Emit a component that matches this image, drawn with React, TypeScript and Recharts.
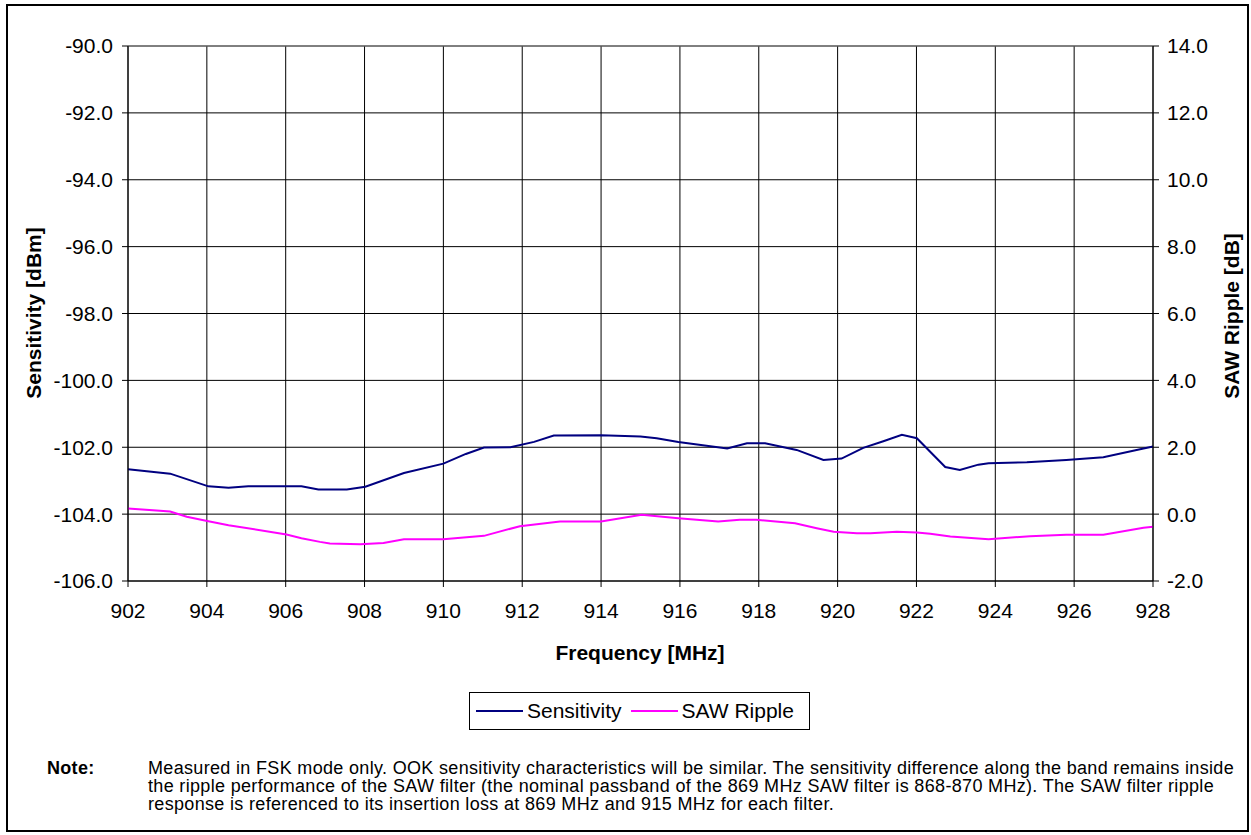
import React from 'react';
import { LineChart, Line, XAxis, YAxis, CartesianGrid, Legend, ReferenceLine } from 'recharts';

const sensFreq = [902, 903.07, 904.04, 904.55, 905.05, 906.4, 906.83, 907.55, 908.02, 909.0, 910.0, 910.57, 911.03, 911.7, 912.3, 912.8, 914.0, 915.0, 915.41, 915.96, 917.2, 917.7, 918.16, 918.96, 919.64, 920.1, 920.65, 921.16, 921.63, 922.01, 922.73, 923.1, 923.57, 923.83, 924.8, 925.8, 926.74, 927.76, 928];
const sensValue = [-102.66, -102.79, -103.17, -103.21, -103.17, -103.17, -103.26, -103.26, -103.18, -102.77, -102.49, -102.2, -102.01, -102.0, -101.84, -101.65, -101.64, -101.68, -101.73, -101.84, -102.04, -101.88, -101.88, -102.08, -102.38, -102.34, -102.02, -101.82, -101.63, -101.73, -102.59, -102.68, -102.52, -102.48, -102.45, -102.38, -102.3, -102.04, -101.98];

const rippleFreq = [902, 903.07, 903.49, 904.04, 904.55, 906.02, 906.4, 906.87, 907.12, 907.89, 908.48, 909.0, 910.0, 911.03, 911.94, 912.96, 914.0, 915.03, 915.96, 916.97, 917.52, 917.94, 918.92, 919.47, 919.9, 920.49, 920.83, 921.5, 922.01, 922.35, 922.86, 923.83, 924.88, 925.8, 926.74, 927.76, 928];
const rippleValue = [0.17, 0.08, -0.08, -0.21, -0.33, -0.61, -0.72, -0.83, -0.88, -0.9, -0.86, -0.75, -0.75, -0.65, -0.36, -0.22, -0.22, -0.02, -0.12, -0.22, -0.17, -0.17, -0.27, -0.42, -0.53, -0.57, -0.57, -0.53, -0.55, -0.59, -0.67, -0.75, -0.66, -0.62, -0.62, -0.41, -0.38];

const freqTicks = [902, 904, 906, 908, 910, 912, 914, 916, 918, 920, 922, 924, 926, 928];
const sensTicks = [-90, -92, -94, -96, -98, -100, -102, -104, -106];
const rippleTicks = [14, 12, 10, 8, 6, 4, 2, 0, -2];
const seriesNames = ['Sensitivity', 'SAW Ripple'];

const noteLines = [
  'Measured in FSK mode only. OOK sensitivity characteristics will be similar. The sensitivity difference along the band remains inside',
  'the ripple performance of the SAW filter (the nominal passband of the 869 MHz SAW filter is 868-870 MHz). The SAW filter ripple',
  'response is referenced to its insertion loss at 869 MHz and 915 MHz for each filter.',
];

const sensData = sensFreq.map((f, i) => ({ freq: f, value: sensValue[i] }));
const rippleData = rippleFreq.map((f, i) => ({ freq: f, value: rippleValue[i] }));

const FONT = 'Arial, "Liberation Sans", Helvetica, sans-serif';
const tickStyle = { fill: '#000', fontSize: 21, fontFamily: FONT };

const LegendContent = (props: any) => {
  const payload = [...(props.payload || [])].sort(
    (a: any, b: any) => seriesNames.indexOf(a.value) - seriesNames.indexOf(b.value)
  );
  return (
    <div style={{ display: 'flex', alignItems: 'center', height: '100%', paddingLeft: 6, fontFamily: FONT, fontSize: 21, color: '#000' }}>
      {payload.map((p: any, i: number) => (
        <div key={i} style={{ display: 'flex', alignItems: 'center', marginRight: i === 0 ? 9 : 0 }}>
          <div style={{ width: 47, height: 2, background: p.color, marginRight: 4 }} />
          <span>{p.value}</span>
        </div>
      ))}
    </div>
  );
};

export default function App() {
  return (
    <div style={{ position: 'absolute', left: 0, top: 0, width: 1251, height: 835, background: '#fff', fontFamily: FONT }}>
      <div style={{ position: 'absolute', left: 6, top: 4, width: 1243, height: 828, border: '2px solid #000', boxSizing: 'border-box' }} />
      <LineChart width={1251} height={835} margin={{ top: 46, right: 0, left: 0, bottom: 186 }}>
        <CartesianGrid xAxisId="f" yAxisId="s" stroke="#000" strokeWidth={1} />
        <XAxis
          xAxisId="f"
          dataKey="freq"
          type="number"
          domain={[902, 928]}
          ticks={freqTicks}
          allowDuplicatedCategory={false}
          height={30}
          tick={tickStyle}
          tickSize={6}
          tickMargin={16}
          stroke="#000"
          interval={0}
        />
        <YAxis
          yAxisId="s"
          orientation="left"
          domain={[-106, -90]}
          ticks={sensTicks}
          width={128}
          tick={tickStyle}
          tickSize={6}
          tickMargin={9}
          stroke="#000"
          interval={0}
          tickFormatter={(v: number) => v.toFixed(1)}
        />
        <YAxis
          yAxisId="r"
          orientation="right"
          domain={[-2, 14]}
          ticks={rippleTicks}
          width={98}
          tick={tickStyle}
          tickSize={6}
          tickMargin={8}
          stroke="#000"
          interval={0}
          tickFormatter={(v: number) => v.toFixed(1)}
        />
        <ReferenceLine xAxisId="f" yAxisId="s" y={-90} stroke="#808080" strokeWidth={1} />
        <Line
          xAxisId="f"
          yAxisId="s"
          data={sensData}
          dataKey="value"
          name="Sensitivity"
          type="linear"
          stroke="#000080"
          strokeWidth={2}
          dot={false}
          isAnimationActive={false}
        />
        <Line
          xAxisId="f"
          yAxisId="r"
          data={rippleData}
          dataKey="value"
          name="SAW Ripple"
          type="linear"
          stroke="#FF00FF"
          strokeWidth={2}
          dot={false}
          isAnimationActive={false}
        />
        <Legend
          content={LegendContent}
          wrapperStyle={{ position: 'absolute', left: 469, top: 692, width: 341, height: 38, border: '1px solid #000', boxSizing: 'border-box', background: '#fff', bottom: 'auto', right: 'auto' }}
        />
      </LineChart>
      <div style={{ position: 'absolute', left: 440, width: 400, top: 642, lineHeight: '21px', textAlign: 'center', fontWeight: 'bold', fontSize: 21 }}>
        Frequency [MHz]
      </div>
      <div style={{ position: 'absolute', left: 34 - 150, top: 313 - 12, width: 300, height: 24, lineHeight: '24px', textAlign: 'center', fontWeight: 'bold', fontSize: 21, transform: 'rotate(-90deg)' }}>
        Sensitivity [dBm]
      </div>
      <div style={{ position: 'absolute', left: 1232 - 150, top: 316 - 12, width: 300, height: 24, lineHeight: '24px', textAlign: 'center', fontWeight: 'bold', fontSize: 21, transform: 'rotate(-90deg)' }}>
        SAW Ripple [dB]
      </div>
      <div style={{ position: 'absolute', left: 47, top: 759, fontWeight: 'bold', fontSize: 18, lineHeight: '18px', letterSpacing: 0.3 }}>Note:</div>
      <div style={{ position: 'absolute', left: 148, top: 759, fontSize: 18, lineHeight: '18px', letterSpacing: 0.33, whiteSpace: 'nowrap' }}>
        {noteLines.map((l, i) => (
          <div key={i} style={{ height: 18 }}>{l}</div>
        ))}
      </div>
    </div>
  );
}
